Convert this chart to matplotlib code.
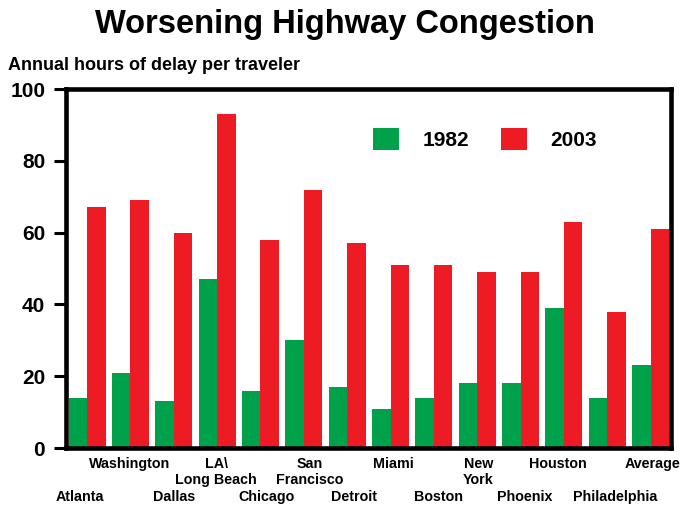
import matplotlib

matplotlib.use("Agg")
import matplotlib.pyplot as plt
from matplotlib.transforms import blended_transform_factory, offset_copy

GREEN = "#00A14B"
RED = "#ED1C24"

plt.rcParams.update({
    "font.family": ["Liberation Sans", "DejaVu Sans"],
    "font.weight": "bold",
})

cities = ["Atlanta", "Washington", "Dallas", "LA\\\nLong Beach", "Chicago",
          "San\nFrancisco", "Detroit", "Miami", "Boston", "New\nYork",
          "Phoenix", "Houston", "Philadelphia", "Average"]
delay_1982 = [14, 21, 13, 47, 16, 30, 17, 11, 14, 18, 18, 39, 14, 23]
delay_2003 = [67, 69, 60, 93, 58, 72, 57, 51, 51, 49, 49, 63, 38, 61]
y_ticks = [0, 20, 40, 60, 80, 100]

# hand nudges (pixels) of the city labels, as in the original artwork
label_nudge = [-7, -1, 0, -1, 6, 6, 7, 3, 5, 1, 4, -6, 8, 2]

fig = plt.figure(figsize=(6.9, 5.08), dpi=100)
fig.patch.set_facecolor("white")
ax = fig.add_axes([0.0957, 0.1181, 0.8768, 0.7067])

x = list(range(len(cities)))
w = 0.427
ax.bar([i - w / 2 for i in x], delay_1982, width=w, color=GREEN, label="1982", zorder=2)
ax.bar([i + w / 2 for i in x], delay_2003, width=w, color=RED, label="2003", zorder=2)

ax.set_xlim(-0.485, 13.47)
ax.set_ylim(0, 100)
ax.set_yticks(y_ticks)
ax.set_yticklabels([str(t) for t in y_ticks], fontsize=15, fontweight="bold")
ax.tick_params(axis="y", length=9, width=2.2, pad=6)
ax.set_xticks([])
for s in ax.spines.values():
    s.set_linewidth(3.3)
    s.set_zorder(3)

# staggered city labels under the bars
trans = blended_transform_factory(ax.transData, ax.transAxes)
for i, name in enumerate(cities):
    yy = -0.025 if i % 2 == 1 else -0.117
    t = offset_copy(trans, fig=fig, x=label_nudge[i], y=0, units="dots")
    ax.text(i, yy, name, transform=t, ha="center", va="top",
            fontsize=10.3, fontweight="bold", linespacing=1.15)

ax.legend(loc="center left", bbox_to_anchor=(0.507, 0.861), ncol=2,
          frameon=False, handlelength=1.25, handleheight=1.25,
          handletextpad=1.15, columnspacing=1.5, borderpad=0, borderaxespad=0,
          prop={"weight": "bold", "size": 15})

fig.text(0.5, 0.952, "Worsening Highway Congestion", ha="center", va="center",
         fontsize=23.5, fontweight="bold")
fig.text(0.012, 0.872, "Annual hours of delay per traveler", ha="left", va="center",
         fontsize=13, fontweight="bold")

fig.savefig("out.png", dpi=100)
